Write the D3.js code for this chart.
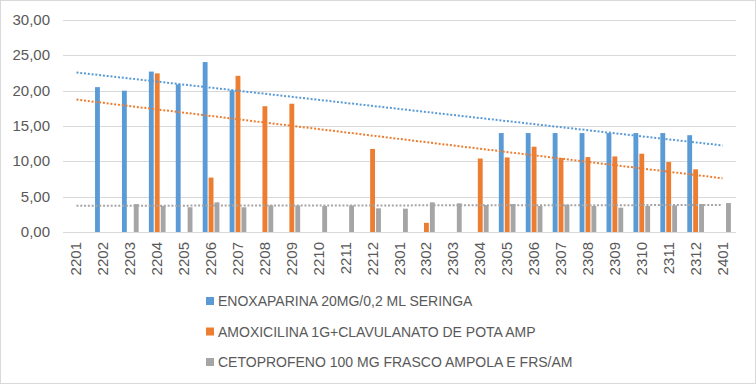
<!doctype html>
<html>
<head>
<meta charset="UTF-8">
<script src="https://d3js.org/d3.v7.min.js"></script>
<style>
  body { margin: 0; background: #fff; }
  text { font-family: "Liberation Sans", Arial, sans-serif; fill: #595959; }
</style>
</head>
<body>
<svg id="chart" width="756" height="384"></svg>
<script>
// categories (year+month)
var categories = ["2201","2202","2203","2204","2205","2206","2207","2208","2209","2210","2211","2212",
                  "2301","2302","2303","2304","2305","2306","2307","2308","2309","2310","2311","2312","2401"];

var seriesNames = ["ENOXAPARINA 20MG/0,2 ML SERINGA",
                   "AMOXICILINA 1G+CLAVULANATO DE POTA AMP",
                   "CETOPROFENO 100 MG FRASCO AMPOLA E FRS/AM"];

var enoxaparina = [null, 20.5, 20.0, 22.7, 20.9, 24.05, 20.05, null, null, null, null, null,
                   null, null, null, null, 14.0, 14.0, 14.0, 14.0, 14.0, 14.0, 14.0, 13.7, null];
var amoxicilina = [null, null, null, 22.45, null, 7.7, 22.1, 17.8, 18.15, null, null, 11.75,
                   null, 1.3, null, 10.4, 10.55, 12.07, 10.47, 10.6, 10.7, 11.08, 9.9, 8.87, null];
var cetoprofeno = [null, null, 3.95, 3.7, 3.5, 4.2, 3.5, 3.77, 3.77, 3.68, 3.77, 3.35,
                   3.3, 4.2, 4.06, 3.82, 3.96, 3.68, 3.87, 3.68, 3.44, 3.68, 3.77, 3.96, 4.1];

var yTicks = [0, 5, 10, 15, 20, 25, 30];
var colors = ["#5B9BD5", "#ED7D31", "#A5A5A5"];
var series = [enoxaparina, amoxicilina, cetoprofeno];

var svg = d3.select("#chart");

svg.append("rect")
   .attr("x", 0.5).attr("y", 0.5)
   .attr("width", 755).attr("height", 383)
   .attr("fill", "#fff").attr("stroke", "#D9D9D9");

var plotLeft = 63, plotRight = 736, plotTop = 20, plotBottom = 232;

var x0 = d3.scaleBand().domain(categories).range([plotLeft, plotRight]).paddingInner(0.38).paddingOuter(0.19);
var x1 = d3.scaleBand().domain([0, 1, 2]).range([0, x0.bandwidth()]).paddingInner(0.18);
var xc = d3.scalePoint().domain(categories).range([plotLeft, plotRight]).padding(0.5);
var y = d3.scaleLinear().domain([0, 30]).range([plotBottom, plotTop]);

var fmt = function(d){ return d3.format(".2f")(d).replace(".", ","); };

// grid
svg.append("g").selectAll("line").data(yTicks).enter().append("line")
   .attr("x1", plotLeft).attr("x2", plotRight)
   .attr("y1", function(d){ return Math.round(y(d)) + 0.5; })
   .attr("y2", function(d){ return Math.round(y(d)) + 0.5; })
   .attr("stroke", "#D9D9D9").attr("stroke-width", 1);

// y labels
svg.append("g").selectAll("text").data(yTicks).enter().append("text")
   .attr("x", 50).attr("y", function(d){ return y(d) + 5; })
   .attr("text-anchor", "end").attr("font-size", 15)
   .text(fmt);

// x labels
svg.append("g").selectAll("text").data(categories).enter().append("text")
   .attr("transform", function(d){ return "translate(" + (xc(d) + 5) + ",242) rotate(-90)"; })
   .attr("text-anchor", "end").attr("font-size", 15)
   .text(function(d){ return d; });

// bars
series.forEach(function(vals, s){
  svg.append("g").selectAll("rect")
     .data(vals.map(function(v, i){ return {c: categories[i], v: v}; }).filter(function(d){ return d.v != null; }))
     .enter().append("rect")
     .attr("x", function(d){ return x0(d.c) + x1(s); })
     .attr("width", x1.bandwidth())
     .attr("y", function(d){ return y(d.v); })
     .attr("height", function(d){ return plotBottom - y(d.v); })
     .attr("fill", colors[s]);
});

// linear trendlines (least squares over the non-empty points)
series.forEach(function(vals, s){
  var pts = [];
  vals.forEach(function(v, i){ if (v != null) pts.push([i + 1, v]); });
  var mx = d3.mean(pts, function(p){ return p[0]; });
  var my = d3.mean(pts, function(p){ return p[1]; });
  var num = d3.sum(pts, function(p){ return (p[0] - mx) * (p[1] - my); });
  var den = d3.sum(pts, function(p){ return (p[0] - mx) * (p[0] - mx); });
  var b = num / den, a = my - b * mx;
  var n = categories.length;
  svg.append("line")
     .attr("x1", xc(categories[0])).attr("y1", y(a + b * 1))
     .attr("x2", xc(categories[n - 1])).attr("y2", y(a + b * n))
     .attr("stroke", colors[s]).attr("stroke-width", 2)
     .attr("stroke-dasharray", "2,1.8");
});

// legend
var legend = svg.append("g").selectAll("g").data(seriesNames).enter().append("g")
   .attr("transform", function(d, i){ return "translate(206," + (297 + i * 30.5) + ")"; });
legend.append("rect").attr("width", 8).attr("height", 8)
   .attr("fill", function(d, i){ return colors[i]; });
legend.append("text").attr("x", 12).attr("y", 9).attr("font-size", 14)
   .text(function(d){ return d; });
</script>
</body>
</html>
